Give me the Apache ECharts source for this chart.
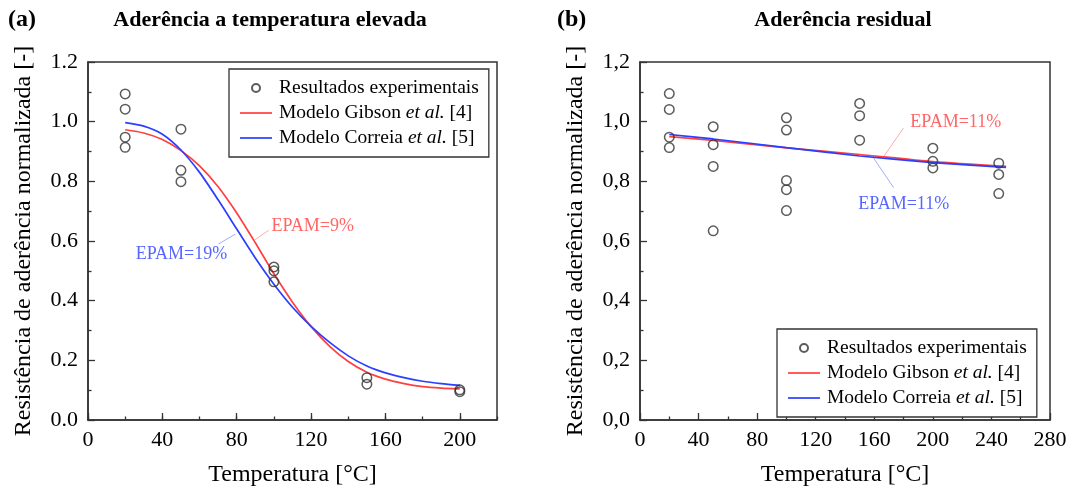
<!DOCTYPE html>
<html>
<head>
<meta charset="utf-8">
<script src="https://cdn.jsdelivr.net/npm/echarts@6/dist/echarts.min.js"></script>
<style>html,body{margin:0;padding:0;background:#fff;}#c{width:1073px;height:492px;}</style>
</head>
<body>
<div id="c"></div>
<script>
// ---- Data: panel (a) Aderência a temperatura elevada ----
const expA = [[20,1.093],[20,1.042],[20,0.948],[20,0.914],[50,0.975],[50,0.837],[50,0.799],[100,0.513],[100,0.500],[100,0.463],[150,0.142],[150,0.120],[200,0.101],[200,0.095]];
const gibsonA = [[20,0.973],[30,0.962],[40,0.940],[50,0.903],[60,0.852],[70,0.782],[80,0.694],[90,0.594],[100,0.490],[110,0.395],[120,0.313],[130,0.247],[140,0.196],[150,0.160],[160,0.137],[170,0.122],[180,0.112],[190,0.107],[200,0.104]];
const correiaA = [[20,0.997],[30,0.985],[40,0.958],[50,0.905],[60,0.830],[70,0.738],[80,0.640],[90,0.543],[100,0.455],[110,0.378],[120,0.314],[130,0.260],[140,0.215],[150,0.181],[160,0.158],[170,0.142],[180,0.130],[190,0.122],[200,0.116]];
// ---- Data: panel (b) Aderência residual ----
const expB = [[20,1.094],[20,1.041],[20,0.948],[20,0.913],[50,0.983],[50,0.923],[50,0.850],[50,0.634],[100,1.013],[100,0.972],[100,0.803],[100,0.772],[100,0.702],[150,1.061],[150,1.020],[150,0.938],[200,0.911],[200,0.867],[200,0.845],[245,0.861],[245,0.823],[245,0.759]];
const gibsonB = [[20,0.950],[50,0.937],[100,0.912],[150,0.890],[200,0.866],[250,0.850]];
const correiaB = [[20,0.957],[50,0.942],[100,0.913],[150,0.885],[200,0.863],[250,0.847]];
// ---- Annotations (data coordinates) ----
const epamA_red = {text:'EPAM=9%', at:[98.7,0.651], leader:[[89.1,0.601],[97.2,0.636]]};
const epamA_blue = {text:'EPAM=19%', at:[74.9,0.557], leader:[[70.2,0.590],[79.2,0.623]]};
const epamB_red = {text:'EPAM=11%', at:[184.6,0.998], leader:[[166.4,0.883],[180.0,0.979]]};
const epamB_blue = {text:'EPAM=11%', at:[149.1,0.724], leader:[[159.5,0.878],[173.2,0.779]]};
// ---- Tick settings ----
const xTicksA = {min:0, max:220, interval:40};
const xTicksB = {min:0, max:280, interval:40};
const yTicks = {min:0, max:1.2, interval:0.2};

const NAME_EXP = 'Resultados experimentais';
const NAME_G = 'Modelo Gibson et al. [4]';
const NAME_C = 'Modelo Correia et al. [5]';
const RED = '#ff4040', BLUE = '#2a3fff', AX = '#333';
const FONT = '"Liberation Serif", "Times New Roman", serif';
const LINE_ICON = 'path://M0,0h32v1.7h-32z';

const chart = echarts.init(document.getElementById('c'), null, {renderer:'canvas'});

function xAxisMain(grid, t, hideMax, minor) {
  return {
    type:'value', gridIndex:grid, position:'bottom', min:t.min, max:t.max, interval:t.interval,
    name:'Temperatura [°C]', nameLocation:'middle', nameGap:43,
    nameTextStyle:{fontFamily:FONT, fontSize:24, color:'#000'},
    axisLine:{show:true, lineStyle:{color:AX, width:1.5}},
    axisTick:{show:true, inside:true, length:7, lineStyle:{color:AX, width:1.3}},
    minorTick:{show:minor, splitNumber:2, length:3.5, lineStyle:{color:AX, width:1.3}},
    axisLabel:{fontFamily:FONT, fontSize:22, color:'#000', margin:9, showMaxLabel:!hideMax},
    splitLine:{show:false}
  };
}
function yAxisCfg(grid, comma) {
  return {
    type:'value', gridIndex:grid, min:yTicks.min, max:yTicks.max, interval:yTicks.interval,
    name:'Resistência de aderência normalizada [-]', nameLocation:'middle', nameGap:52,
    nameTextStyle:{fontFamily:FONT, fontSize:24, color:'#000'},
    axisLine:{show:true, lineStyle:{color:AX, width:1.5}},
    axisTick:{show:true, inside:true, length:7, lineStyle:{color:AX, width:1.3}},
    minorTick:{show:true, splitNumber:2, length:3.5, lineStyle:{color:AX, width:1.3}},
    axisLabel:{fontFamily:FONT, fontSize:22, color:'#000', margin:10,
      formatter: v => { const s = (Math.round(v*10)/10).toFixed(1); return comma ? s.replace('.', ',') : s; }},
    splitLine:{show:false}
  };
}
function legendCfg(left, top) {
  return {
    orient:'vertical', left:left, top:top,
    data:[{name:NAME_EXP, icon:'circle'}, {name:NAME_G, icon:LINE_ICON}, {name:NAME_C, icon:LINE_ICON}],
    itemWidth:32, itemHeight:8, itemGap:5, padding:[9,10,9,11],
    borderColor:AX, borderWidth:1.3, backgroundColor:'#fff',
    selectedMode:false,
    textStyle:{fontFamily:FONT, fontSize:19.5, color:'#000', padding:[0,0,0,2],
      rich:{i:{fontFamily:FONT, fontSize:19.5, fontStyle:'italic', color:'#000'}}},
    formatter: n => n.replace('et al.', '{i|et al.}')
  };
}
function scatterSeries(xi, yi, data) {
  return {type:'scatter', name:NAME_EXP, xAxisIndex:xi, yAxisIndex:yi, data:data, symbol:'circle', symbolSize:9.5, z:5,
    itemStyle:{color:'rgba(255,255,255,0)', borderColor:'#333', borderWidth:1.5}};
}
function lineSeries(xi, yi, name, color, data) {
  return {type:'line', name:name, xAxisIndex:xi, yAxisIndex:yi, data:data, smooth:0.25, symbol:'none', z:3,
    lineStyle:{color:color, width:1.7}, itemStyle:{color:color}};
}
function annot(xi, yi, a, color, align) {
  return [
    {type:'line', xAxisIndex:xi, yAxisIndex:yi, data:a.leader, symbol:'none', silent:true, z:2,
      lineStyle:{color:color, width:0.8, opacity:0.55}, tooltip:{show:false}},
    {type:'scatter', xAxisIndex:xi, yAxisIndex:yi, data:[a.at], symbolSize:0, silent:true, z:6,
      label:{show:true, position:[0,0], align:align, verticalAlign:'middle', formatter:a.text,
        fontFamily:FONT, fontSize:18, color:color}}
  ];
}

const option = {
  animation:false,
  backgroundColor:'#fff',
  grid:[
    {left:88, top:62, width:409, height:364, show:true, borderColor:AX, borderWidth:1.5, containLabel:false},
    {left:640, top:62, width:410, height:365, show:true, borderColor:AX, borderWidth:1.5, containLabel:false}
  ],
  xAxis:[
    xAxisMain(0, xTicksA, true, false),
    xAxisMain(1, xTicksB, false, true),
    {type:'value', gridIndex:0, position:'bottom', min:xTicksA.min, max:xTicksA.max, interval:xTicksA.interval/2,
      axisLine:{show:false}, axisLabel:{show:false}, splitLine:{show:false},
      axisTick:{show:true, inside:true, length:3.5, lineStyle:{color:AX, width:1.3}}}
  ],
  yAxis:[ yAxisCfg(0, false), yAxisCfg(1, true) ],
  legend:[ legendCfg(229, 69), legendCfg(777, 329) ],
  graphic:[
    {type:'text', left:8, top:8, style:{text:'(a)', font:'bold 24px ' + FONT, fill:'#000'}},
    {type:'text', x:270, y:9, style:{text:'Aderência a temperatura elevada', font:'bold 22px ' + FONT, fill:'#000', textAlign:'center', textVerticalAlign:'top'}},
    {type:'text', left:557, top:8, style:{text:'(b)', font:'bold 24px ' + FONT, fill:'#000'}},
    {type:'text', x:843, y:9, style:{text:'Aderência residual', font:'bold 22px ' + FONT, fill:'#000', textAlign:'center', textVerticalAlign:'top'}}
  ],
  series:[
    scatterSeries(0, 0, expA),
    lineSeries(0, 0, NAME_G, RED, gibsonA),
    lineSeries(0, 0, NAME_C, BLUE, correiaA),
    ...annot(0, 0, epamA_red, RED, 'left'),
    ...annot(0, 0, epamA_blue, BLUE, 'right'),
    scatterSeries(1, 1, expB),
    lineSeries(1, 1, NAME_G, RED, gibsonB),
    lineSeries(1, 1, NAME_C, BLUE, correiaB),
    ...annot(1, 1, epamB_red, RED, 'left'),
    ...annot(1, 1, epamB_blue, BLUE, 'left')
  ]
};
chart.setOption(option);
</script>
</body>
</html>
